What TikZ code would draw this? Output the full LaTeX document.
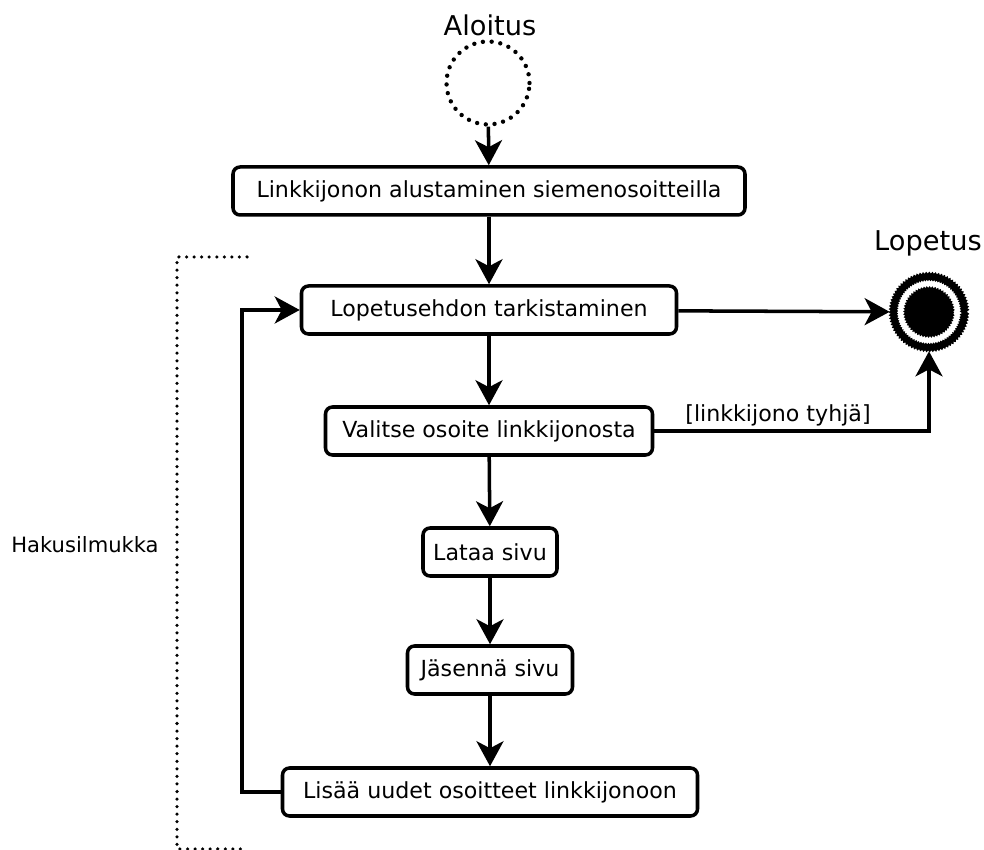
\documentclass[tikz,border=0pt]{standalone}
\usepackage{fontspec}
\setmainfont{DejaVu Sans}
\usepackage{tikz}
\usetikzlibrary{positioning,arrows.meta,decorations.pathmorphing}

\begin{document}
\begin{tikzpicture}[
		act/.style={draw, rounded corners=4pt, line width=2pt, minimum height=0.96cm,
		            font=\fontsize{12.6}{15}\selectfont, inner xsep=0.2cm},
		flow/.style={line width=2pt, -{Stealth[length=0.5cm, width=0.54cm, inset=0.14cm]}},
		dots/.style={line width=2pt, line cap=round, dash pattern=on 0pt off 4.3pt},
		rough/.style={decorate, decoration={zigzag, segment length=1.6pt, amplitude=0.5pt}}]
		\useasboundingbox (0,0) rectangle (19.68,17);
		% start and end
		\node[font=\fontsize{15.5}{18}\selectfont] (startlbl) at (9.8, 16.5) {Aloitus};
		\node[circle, minimum size=1.66cm, line width=2.5pt, line cap=round,
		      dash pattern=on 0pt off 5pt, draw] (start) at (9.76, 15.34) {};
		\node[font=\fontsize{15.5}{18}\selectfont] (stoplbl) at (18.56, 12.14) {Lopetus};
		\node[circle, minimum size=1.56cm] (stop) at (18.58, 10.76) {};
		\draw[line width=2.8pt, rough] (stop.center) circle (0.71cm);
		\fill[rough] (stop.center) circle (0.5cm);
		% activities
		\node[act, minimum width=10.24cm] (init)  at (9.78, 13.18) {Linkkijonon alustaminen siemenosoitteilla};
		\node[act, minimum width=7.5cm]   (check) at (9.78, 10.8)  {Lopetusehdon tarkistaminen};
		\node[act, minimum width=6.54cm]  (pick)  at (9.78, 8.38)  {Valitse osoite linkkijonosta};
		\node[act, minimum width=2.68cm]  (load)  at (9.8, 5.96)   {Lataa sivu};
		\node[act, minimum width=3.3cm]   (parse) at (9.8, 3.6)    {Jäsennä sivu};
		\node[act, minimum width=8.3cm]   (addq)  at (9.8, 1.16)   {Lisää uudet osoitteet linkkijonoon};
		% connectors
		\draw[flow] (start) -- (init);
		\draw[flow] (init) -- (check);
		\draw[flow] (check) -- (stop);
		\draw[flow] (check) -- (pick);
		\draw[flow] (pick) -- (load);
		\draw[flow] (load) -- (parse);
		\draw[flow] (parse) -- (addq);
		\draw[flow] (pick.east) -| (stop.south);
		\node[font=\fontsize{12.6}{15}\selectfont] (empty) at (15.56, 8.7) {[linkkijono tyhjä]};
		\coordinate (back) at (4.84, 0);
		\draw[flow] (addq.west) -| (back |- check.west) -- (check.west);
		% loop bracket
		\coordinate (brtop) at (4.94, 11.86);
		\coordinate (brbot) at (4.94, 0.02);
		\draw[dots] (brtop) -- (3.54, 11.86) -- (3.54, 0.02) -- (brbot);
		\node[font=\fontsize{12}{14}\selectfont] (looplbl) at (1.7, 6.1) {Hakusilmukka};
	\end{tikzpicture}
\end{document}
